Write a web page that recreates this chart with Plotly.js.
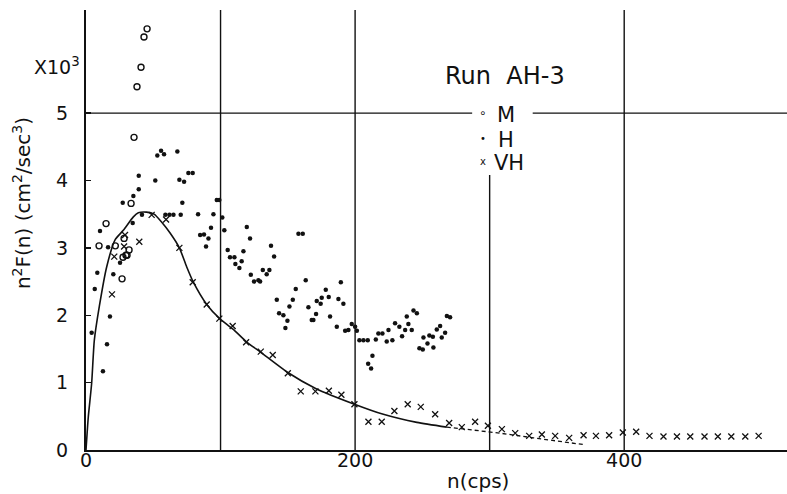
<!DOCTYPE html>
<html>
<head>
<meta charset="utf-8">
<script src="https://cdn.plot.ly/plotly-3.0.1.min.js"></script>
<style>html,body{margin:0;padding:0;background:#fff;}#chart{width:787px;height:494px;}</style>
</head>
<body>
<div id="chart"></div>
<script>
// M series (open circles)
const mX = [9.7, 14.9, 21.8, 26.8, 27.5, 28.3, 29.7, 30.5, 32.0, 33.5, 35.7, 37.9, 40.9, 43.1, 45.4];
const mY = [3.03, 3.36, 3.03, 2.54, 2.86, 3.14, 2.89, 2.89, 2.97, 3.66, 4.64, 5.39, 5.68, 6.13, 6.25];

// H series (filled dots)
const hX = [4.2, 6.5, 8.4, 10.4, 12.6, 15.6, 16.4, 17.8, 20.3, 25.3, 27.3, 34.7, 35.2, 39.2, 39.2, 41.6,
  51.5, 53.0, 55.8, 58.0, 59.0, 62.0, 65.0, 67.9, 69.4, 70.4, 71.6, 72.9, 76.1, 79.3, 83.3, 84.8,
  87.7, 89.2, 91.0, 92.9, 94.7, 97.2, 99.1, 101.3, 102.8, 105.3, 107.0, 110.3, 111.0, 114.0, 115.7,
  117.0, 119.5, 121.9, 122.5, 124.9, 128.1, 129.4, 131.4, 134.3, 136.3, 137.5, 139.8, 141.8, 143.5,
  146.7, 148.2, 149.7, 151.2, 153.7, 155.9, 157.9, 161.1, 163.3, 165.3, 167.8, 169.0, 171.0, 171.5,
  174.4, 175.2, 178.2, 180.4, 181.4, 186.4, 187.6, 189.4, 191.3, 192.6, 195.0, 197.5, 200.0, 201.3,
  203.2, 206.2, 209.4, 209.7, 211.9, 212.9, 215.4, 217.3, 220.3, 223.5, 224.8, 227.7, 229.7, 232.9,
  234.9, 237.2, 238.4, 239.6, 242.1, 243.4, 245.9, 247.8, 250.3, 250.8, 253.8, 255.2, 257.8, 258.2,
  260.7, 263.2, 264.4, 266.9, 268.2, 270.6];
const hY = [1.74, 2.39, 2.63, 3.25, 1.17, 1.57, 3.01, 1.98, 2.61, 2.78, 3.67, 3.37, 3.77, 3.87, 4.07, 3.49,
  4.00, 4.37, 4.44, 4.39, 3.49, 3.49, 3.49, 4.43, 4.01, 3.49, 3.67, 3.98, 4.11, 4.11, 3.50, 3.19,
  3.20, 3.02, 3.14, 3.30, 3.50, 3.71, 3.71, 3.45, 3.26, 2.97, 2.86, 2.86, 2.76, 2.70, 2.80,
  2.95, 3.31, 3.14, 2.60, 2.50, 2.52, 2.50, 2.67, 2.61, 2.67, 3.03, 2.87, 2.23, 2.03,
  2.00, 1.81, 1.92, 2.13, 2.23, 2.39, 3.21, 3.21, 2.52, 2.12, 1.93, 1.93, 2.02, 2.21,
  2.17, 2.26, 2.38, 2.27, 1.98, 1.83, 2.24, 2.49, 2.17, 1.77, 1.78, 1.87, 1.83, 1.77,
  1.63, 1.63, 1.63, 1.28, 1.21, 1.40, 1.64, 1.73, 1.73, 1.61, 1.78, 1.63, 1.88, 1.83,
  1.69, 1.78, 1.98, 1.87, 1.78, 2.07, 2.03, 1.51, 1.49, 1.67, 1.58, 1.70, 1.68, 1.52,
  1.79, 1.84, 1.67, 1.74, 1.99, 1.97];

// VH series (crosses)
const vhX = [19.3, 21.0, 28.3, 29.0, 39.6, 48.8, 59.5, 69.4, 79.3, 89.7, 99.1, 109.0, 119.0, 129.9, 138.8,
  150.0, 159.6, 170.5, 180.5, 189.8, 199.5, 209.9, 219.8, 229.2, 239.1, 248.8, 259.5, 269.9, 279.3,
  289.2, 298.7, 309.1, 319.0, 329.4, 338.8, 348.7, 359.1, 369.8, 379.0, 388.8, 399.0, 408.9, 418.8,
  429.2, 439.2, 449.1, 459.7, 469.6, 479.6, 490.0, 499.9];
const vhY = [2.31, 2.87, 3.02, 3.19, 3.09, 3.49, 3.42, 3.00, 2.49, 2.16, 1.95, 1.84, 1.60, 1.46, 1.41,
  1.14, 0.87, 0.87, 0.88, 0.82, 0.68, 0.42, 0.42, 0.58, 0.68, 0.64, 0.53, 0.40, 0.34,
  0.42, 0.36, 0.31, 0.25, 0.21, 0.23, 0.21, 0.18, 0.22, 0.21, 0.22, 0.26, 0.27, 0.21,
  0.20, 0.20, 0.20, 0.20, 0.20, 0.20, 0.20, 0.21];

// fitted curve (solid part) and its dashed extension
const curveX = [0, 1.7, 4.2, 6.2, 9.9, 15.4, 21.6, 27.7, 35.2, 38.9, 45.0, 50.6, 56.3, 62.5, 69.4, 74.8,
  79.8, 89.7, 99.4, 109.5, 119.0, 129.9, 150.0, 171.0, 199.5, 221.0, 245.9, 268.2];
const curveY = [0, 0.49, 0.99, 1.63, 2.13, 2.72, 3.12, 3.26, 3.46, 3.52, 3.53, 3.50, 3.38, 3.22, 3.00, 2.72,
  2.49, 2.16, 1.95, 1.79, 1.61, 1.45, 1.15, 0.91, 0.68, 0.53, 0.41, 0.34];
const dashX = [268.2, 288.0, 307.8, 332.6, 357.4, 370.0];
const dashY = [0.34, 0.30, 0.25, 0.18, 0.12, 0.08];

const yTicks = [0, 1, 2, 3, 4, 5];
const xTicks = [0, 200, 400];
const xGrid = [100, 200, 400];

const ink = '#111';
const FONT = 'DejaVu Sans, Liberation Sans, sans-serif';

const traces = [
  {x: curveX, y: curveY, mode: 'lines', line: {color: ink, width: 1.6, shape: 'spline', smoothing: 0.6}, hoverinfo: 'skip', showlegend: false},
  {x: dashX, y: dashY, mode: 'lines', line: {color: ink, width: 1.3, dash: '4px,3px'}, hoverinfo: 'skip', showlegend: false},
  {x: mX, y: mY, mode: 'markers', name: 'M', marker: {symbol: 'circle-open', size: 6, color: ink, line: {width: 1.4, color: ink}}, showlegend: false},
  {x: hX, y: hY, mode: 'markers', name: 'H', marker: {symbol: 'circle', size: 4.5, color: ink}, showlegend: false},
  {x: vhX, y: vhY, mode: 'markers', name: 'VH', marker: {symbol: 'x-thin-open', size: 6, color: ink, line: {width: 1.3, color: ink}}, showlegend: false}
];

const shapes = [];
xGrid.forEach(v => shapes.push({type: 'line', xref: 'x', yref: 'paper', x0: v, x1: v, y0: 0, y1: 1, line: {color: ink, width: 1.4}, layer: 'below'}));
shapes.push({type: 'line', xref: 'x', yref: 'y', x0: 300, x1: 300, y0: 0, y1: 4.08, line: {color: ink, width: 1.4}, layer: 'below'});
shapes.push({type: 'line', xref: 'x', yref: 'y', x0: 0, x1: 287, y0: 5, y1: 5, line: {color: ink, width: 1.4}, layer: 'below'});
shapes.push({type: 'line', xref: 'x', yref: 'y', x0: 332, x1: 521, y0: 5, y1: 5, line: {color: ink, width: 1.4}, layer: 'below'});

const annotations = [
  {text: 'X10<sup>3</sup>', xref: 'paper', yref: 'paper', x: -0.006, y: 0.872, xanchor: 'right', yanchor: 'middle', showarrow: false, font: {size: 19, color: ink, family: FONT}},
  {text: 'Run  AH-3', xref: 'x', yref: 'paper', x: 311.5, y: 0.85, xanchor: 'center', yanchor: 'middle', showarrow: false, font: {size: 24, color: ink, family: FONT}},
  {text: 'M', xref: 'x', yref: 'y', x: 304, y: 4.97, xanchor: 'left', yanchor: 'middle', showarrow: false, font: {size: 21, color: ink, family: FONT}},
  {text: 'H', xref: 'x', yref: 'y', x: 305, y: 4.6, xanchor: 'left', yanchor: 'middle', showarrow: false, font: {size: 21, color: ink, family: FONT}},
  {text: 'VH', xref: 'x', yref: 'y', x: 302, y: 4.26, xanchor: 'left', yanchor: 'middle', showarrow: false, font: {size: 21, color: ink, family: FONT}},
  {text: '∘', xref: 'x', yref: 'y', x: 295, y: 5.0, xanchor: 'center', yanchor: 'middle', showarrow: false, font: {size: 12, color: ink, family: FONT}},
  {text: '•', xref: 'x', yref: 'y', x: 295, y: 4.62, xanchor: 'center', yanchor: 'middle', showarrow: false, font: {size: 10, color: ink, family: FONT}},
  {text: 'x', xref: 'x', yref: 'y', x: 295, y: 4.28, xanchor: 'center', yanchor: 'middle', showarrow: false, font: {size: 10, color: ink, family: FONT}},
  {text: 'n(cps)', xref: 'x', yref: 'paper', x: 291, y: -0.038, xanchor: 'center', yanchor: 'top', showarrow: false, font: {size: 20, color: ink, family: FONT}},
  {text: 'n<sup>2</sup>F(n) (cm<sup>2</sup>/sec<sup>3</sup>)', xref: 'paper', yref: 'paper', x: -0.092, y: 0.56, xanchor: 'center', yanchor: 'middle', textangle: -90, showarrow: false, font: {size: 20, color: ink, family: FONT}}
];

const layout = {
  width: 787, height: 494,
  margin: {l: 86, r: 0, t: 10, b: 44, pad: 0},
  paper_bgcolor: '#fff', plot_bgcolor: '#fff',
  font: {family: FONT, color: ink, size: 19},
  showlegend: false,
  xaxis: {range: [0, 521], showgrid: false, zeroline: false, showline: true, linecolor: ink, linewidth: 2.2,
    tickvals: xTicks, ticktext: xTicks.map(String), ticks: '', ticklabelstandoff: -8, tickfont: {size: 19, family: FONT, color: ink}, fixedrange: true},
  yaxis: {range: [0, 6.53], showgrid: false, zeroline: false, showline: true, linecolor: ink, linewidth: 2.2,
    tickvals: yTicks, ticktext: yTicks.map(String), ticks: 'inside', ticklen: 5, tickwidth: 1.4, tickcolor: ink,
    ticklabelstandoff: 12, tickfont: {size: 19, family: FONT, color: ink}, fixedrange: true},
  shapes: shapes,
  annotations: annotations
};

Plotly.newPlot('chart', traces, layout, {staticPlot: true, displayModeBar: false});
</script>
</body>
</html>
